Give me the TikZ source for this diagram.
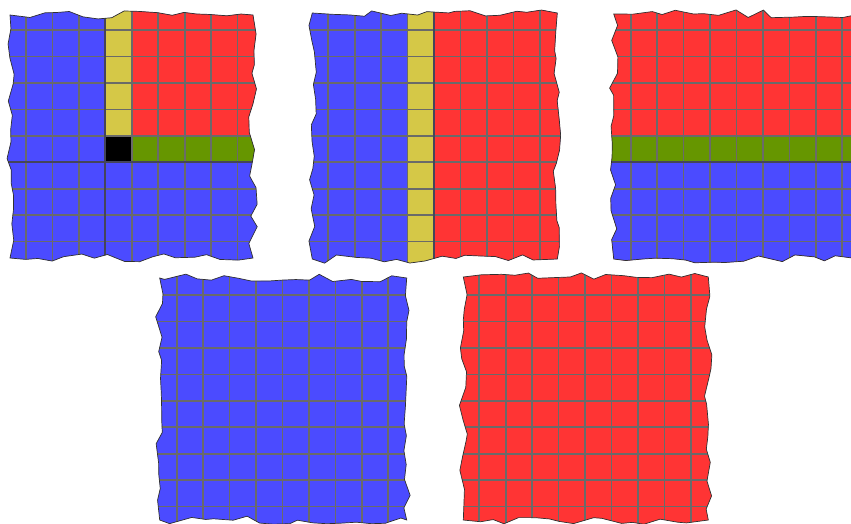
\documentclass[tikz,border=0pt]{standalone}
\usetikzlibrary{decorations.pathmorphing}
\definecolor{PatchBlue}{HTML}{4B4BFF}
\definecolor{PatchRed}{HTML}{FF3434}
\definecolor{PatchYellow}{HTML}{D5C847}
\definecolor{PatchGreen}{HTML}{669600}
\definecolor{GridGray}{HTML}{6A6A6A}
\definecolor{CutDark}{HTML}{45455A}
\definecolor{EdgeDark}{HTML}{303030}
\tikzset{
  torn/.style={decorate, decoration={random steps, segment length=12pt, amplitude=3.6pt}},
  tornedge/.style={torn, draw=EdgeDark, line width=0.6pt},
  gridline/.style={draw=GridGray, line width=1.4pt},
  cutline/.style={draw=CutDark, line width=1.8pt},
}
\newcommand{\cellsz}{26.45}
\newcommand{\patchgrid}{%
  \foreach \k in {0,...,8} {
    \draw[gridline] (\k*\cellsz,-30) -- (\k*\cellsz,250);
    \draw[gridline] (-30,\k*\cellsz) -- (250,\k*\cellsz);
  }}

\begin{document}
\begin{tikzpicture}[x=0.03cm, y=-0.03cm]
  \clip (0,0) rectangle (851,523);

  % top left: both cuts
  \begin{scope}[shift={(26,30)}]
    \pgfmathsetseed{7}
    \begin{scope}
      \path[torn, clip] (-16,-15) rectangle (227,228);
      \fill[PatchBlue] (-30,-30) rectangle (250,250);
      \fill[PatchYellow] (3*\cellsz,-30) rectangle (4*\cellsz,4*\cellsz);
      \fill[PatchRed] (4*\cellsz,-30) rectangle (250,4*\cellsz);
      \fill[black] (3*\cellsz,4*\cellsz) rectangle (4*\cellsz,5*\cellsz);
      \fill[PatchGreen] (4*\cellsz,4*\cellsz) rectangle (250,5*\cellsz);
      \patchgrid
      \draw[cutline] (3*\cellsz,-30) -- (3*\cellsz,250);
      \draw[cutline] (-30,5*\cellsz) -- (250,5*\cellsz);
    \end{scope}
    \pgfmathsetseed{7}
    \draw[tornedge] (-16,-15) rectangle (227,228);
  \end{scope}

  % top middle: vertical cut
  \begin{scope}[shift={(328.3,30)}]
    \pgfmathsetseed{21}
    \begin{scope}
      \path[torn, clip] (-16,-17) rectangle (229,229);
      \fill[PatchBlue] (-30,-30) rectangle (250,250);
      \fill[PatchYellow] (3*\cellsz,-30) rectangle (4*\cellsz,250);
      \fill[PatchRed] (4*\cellsz,-30) rectangle (250,250);
      \patchgrid
      \draw[cutline] (4*\cellsz,-30) -- (4*\cellsz,250);
    \end{scope}
    \pgfmathsetseed{21}
    \draw[tornedge] (-16,-17) rectangle (229,229);
  \end{scope}

  % top right: horizontal cut
  \begin{scope}[shift={(630.7,30)}]
    \pgfmathsetseed{35}
    \begin{scope}
      \path[torn, clip] (-17,-16) rectangle (229,229);
      \fill[PatchRed] (-30,-30) rectangle (250,250);
      \fill[PatchGreen] (-30,4*\cellsz) rectangle (250,5*\cellsz);
      \fill[PatchBlue] (-30,5*\cellsz) rectangle (250,250);
      \patchgrid
      \draw[cutline] (-30,5*\cellsz) -- (250,5*\cellsz);
    \end{scope}
    \pgfmathsetseed{35}
    \draw[tornedge] (-17,-16) rectangle (229,229);
  \end{scope}

  % bottom left: blue only
  \begin{scope}[shift={(176.7,295)}]
    \pgfmathsetseed{48}
    \begin{scope}
      \path[torn, clip] (-17,-17) rectangle (230,225);
      \fill[PatchBlue] (-30,-30) rectangle (250,250);
      \patchgrid
    \end{scope}
    \pgfmathsetseed{48}
    \draw[tornedge] (-17,-17) rectangle (230,225);
  \end{scope}

  % bottom right: red only
  \begin{scope}[shift={(479.3,295)}]
    \pgfmathsetseed{63}
    \begin{scope}
      \path[torn, clip] (-16,-18) rectangle (229,225);
      \fill[PatchRed] (-30,-30) rectangle (250,250);
      \patchgrid
    \end{scope}
    \pgfmathsetseed{63}
    \draw[tornedge] (-16,-18) rectangle (229,225);
  \end{scope}
\end{tikzpicture}
\end{document}
